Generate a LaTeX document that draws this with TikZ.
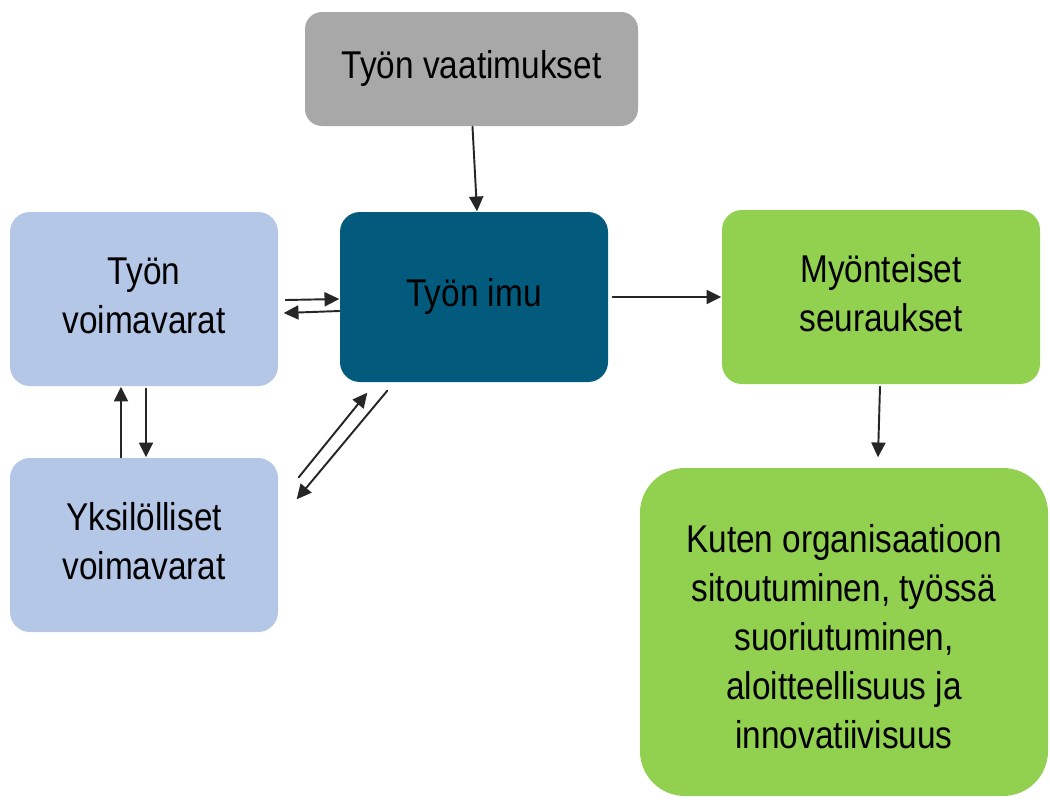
\documentclass[tikz,border=0pt]{standalone}
\usepackage{fontspec}
\setmainfont{Liberation Sans}
\usetikzlibrary{arrows.meta}
\definecolor{vaatgray}{RGB}{168,168,168}
\definecolor{resblue}{RGB}{180,199,231}
\definecolor{imuteal}{RGB}{2,90,124}
\definecolor{posgreen}{RGB}{146,208,80}
\newcommand{\boxtext}[1]{\scalebox{1}[1.16]{\begin{tabular}{@{}c@{}}#1\end{tabular}}}

\begin{document}
\begin{tikzpicture}[line cap=round,line join=round,x=1cm,y=1cm,
  box/.style={rounded corners=0.2cm,inner sep=0pt,align=center,
    font=\fontsize{9.5}{12}\selectfont},
  link/.style={-{Triangle[length=4.2pt,width=4pt]},black!85,line width=0.55pt}]
\useasboundingbox (0,0) rectangle (10.5,-7.99);
% boxes
\node[box,fill=vaatgray,rounded corners=0.17cm,minimum width=3.33cm,minimum height=1.14cm] (vaat) at (4.715,-0.69) {\boxtext{Työn vaatimukset}};
\node[box,fill=resblue,minimum width=2.68cm,minimum height=1.74cm] (voima) at (1.44,-2.99) {\boxtext{Työn\\voimavarat}};
\node[box,fill=imuteal,minimum width=2.68cm,minimum height=1.70cm] (imu) at (4.74,-2.97) {\boxtext{Työn imu}};
\node[box,fill=posgreen,minimum width=3.18cm,minimum height=1.74cm] (myont) at (8.81,-2.97) {\boxtext{Myönteiset\\seuraukset}};
\node[box,fill=resblue,minimum width=2.68cm,minimum height=1.74cm] (yksil) at (1.44,-5.45) {\boxtext{Yksilölliset\\voimavarat}};
\node[box,fill=posgreen,rounded corners=0.45cm,minimum width=4.08cm,minimum height=3.28cm] (kuten) at (8.44,-6.32) {\raisebox{-0.09cm}[\height][\depth]{\boxtext{Kuten organisaatioon\\sitoutuminen, työssä\\suoriutuminen,\\aloitteellisuus ja\\innovatiivisuus}}};
% arrows
\draw[link] ([xshift=0.01cm]vaat.south) -- ([xshift=0.03cm]imu.north);
\draw[link] ([xshift=0.07cm,yshift=-0.01cm]voima.east) -- ([yshift=-0.02cm]imu.east -| imu.west);
\draw[link] ([yshift=-0.14cm]imu.west) -- ([xshift=0.05cm,yshift=-0.14cm]voima.east);
\draw[link] ([xshift=-0.23cm]yksil.north) -- ([xshift=-0.23cm]voima.south);
\draw[link] ([xshift=0.02cm,yshift=-0.02cm]voima.south) -- ([xshift=0.02cm]yksil.north);
\draw[link] ([xshift=0.2cm,yshift=-0.2cm]yksil.north east) -- ([xshift=0.28cm,yshift=-0.1cm]imu.south west);
\draw[link] ([xshift=0.48cm,yshift=-0.08cm]imu.south west) -- ([xshift=0.18cm,yshift=-0.42cm]yksil.north east);
\draw[link] ([xshift=0.04cm]imu.east) -- (myont.west);
\draw[link] ([xshift=-0.01cm,yshift=-0.02cm]myont.south) -- ([xshift=0.34cm,yshift=0.1cm]kuten.north);
\end{tikzpicture}
\end{document}
